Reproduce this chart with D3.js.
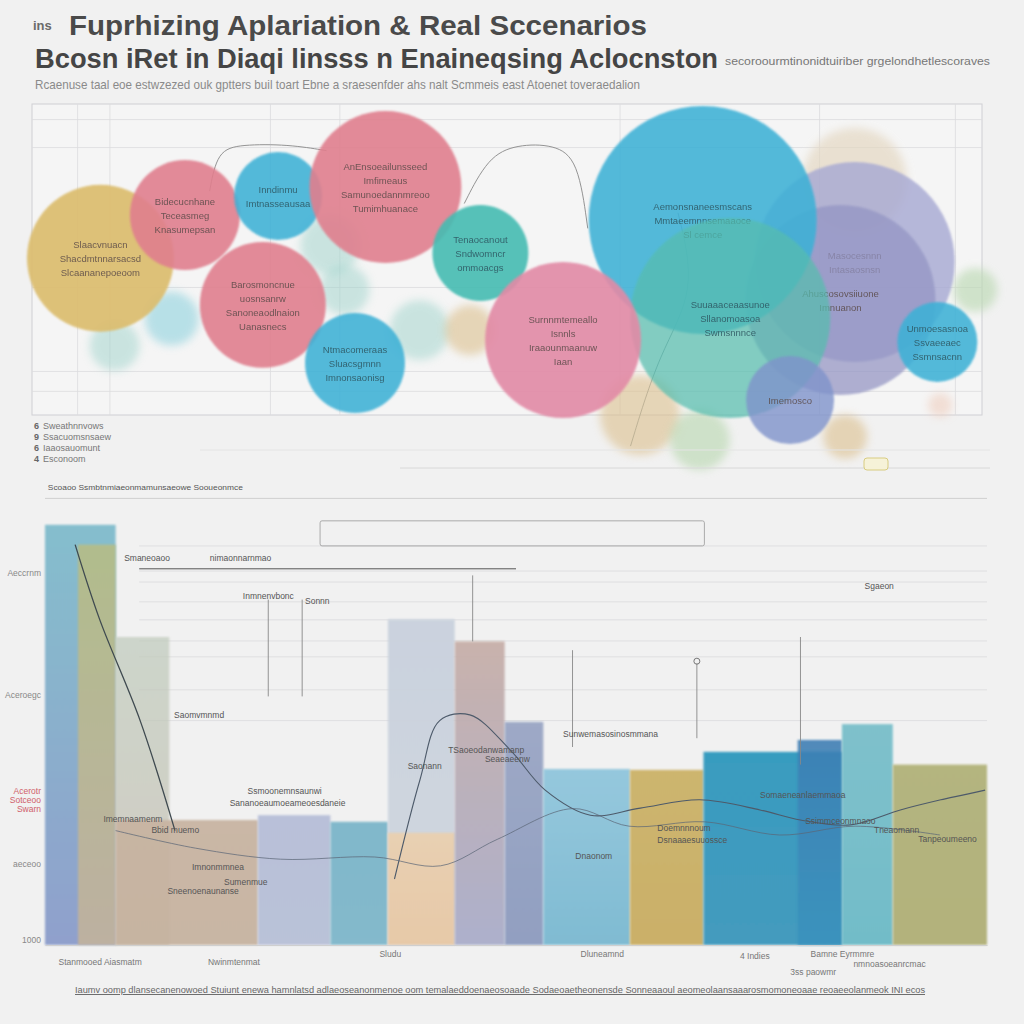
<!DOCTYPE html>
<html><head><meta charset="utf-8">
<script src="https://cdn.jsdelivr.net/npm/d3@7"></script>
<style>body{margin:0;background:#f1f1f1}svg{display:block}</style>
</head><body><svg id="c" width="1024" height="1024"></svg>
<script>
// ---------------- DATA ----------------
const titlePrefix = "ins";
const titleLine1 = "Fuprhizing Aplariation & Real Sccenarios";
const titleLine2 = "Bcosn iRet in Diaqi linsss n Enaineqsing Aclocnston";
const titleTail = "secoroourmtinonidtuiriber grgelondhetlescoraves";
const subtitle = "Rcaenuse taal eoe estwzezed ouk gptters buil toart Ebne a sraesenfder ahs nalt Scmmeis east Atoenet toveraedalion";

// bubble chart (top) - x,y in 0..100 units, size = value
const bubbleNames = ["b1","b2","b3","b4","b5","b6","b7","b8","b9","b10","b11","b12","b13","b14","b15","b16","b17","b18","b19","b20","b21","b22","b23","b24","b25","b26"];
const bubbleX = [86.6, 8.7, 14.7, 31.4, 32.9, 40.8, 46.1, 99.3, 64.0, 70.3, 85.6, 95.6, 7.2, 16.1, 25.9, 37.2, 24.3, 34.0, 47.2, 86.6, 85.1, 70.6, 73.5, 55.9, 79.8, 95.3];
const bubbleY = [75.6, 22.3, 31.0, 54.7, 40.2, 27.3, 27.3, 40.2, 0, -8.0, -7.0, 3.2, 50.4, 64.3, 70.4, 73.3, 35.4, 16.7, 52.1, 49.2, 37.0, 62.7, 31.2, 24.1, 4.8, 23.5];
const bubbleSize = [20.8, 4.8, 5.6, 6.9, 4.8, 6.9, 4.8, 3.7, 12.3, 6.9, 3.7, 1.1, 41.5, 23.3, 14.9, 44.4, 30.5, 19.2, 17.7, 77.0, 69.5, 100, 77.0, 46.8, 14.9, 12.3];
const bubbleGroup = ["tanF","tealF","aquaF","tealF","tealF","tealF","goldF","greenF","goldF","greenF","goldF","peachF","gold","pink","blue","pink","pink","blue","teal","lilac","purple","blue","tealB","rose","indigo","blue"];
const bubbleLabels = [[],[],[],[],[],[],[],[],[],[],[],[],
 ["Slaacvnuacn","Shacdmtnnarsacsd","Slcaananepoeoom"],
 ["Bidecucnhane","Teceasmeg","Knasumepsan"],
 ["Inndinmu","Imtnasseausaa"],
 ["AnEnsoeailunsseed","Imfimeaus","Samunoedannmreoo","Tumimhuanace"],
 ["Barosmoncnue","uosnsanrw","Sanoneaodlnaion","Uanasnecs"],
 ["Ntmacomeraas","Sluacsgmnn","Imnonsaonisg"],
 ["Tenaocanout","Sndwomncr","ommoacgs"],
 ["Masocesnnn","Intasaosnsn"],
 ["Ahuscosovsiiuone","Imnuanon"],
 ["Aemonsnaneesmscans","Mmtaeemnnsemaaoce","Sl cemce"],
 ["Suuaaaceaasunoe","Sllanomoasoa","Swmsnnnce"],
 ["Surnnmtemeallo","Isnnls","Iraaounmaanuw","Iaan"],
 ["Imemosco"],
 ["Unmoesasnoa","Ssvaeeaec","Ssmnsacnn"]];

const legendLabels = ["Sweathnnvows","Ssacuomsnsaew","Iaaosauomunt","Esconoom"];
const topGridX = [4.8, 8.2, 25.1, 32.4, 61.9, 82.9, 97.2];
const topGridY = [95, 86, 41, 14, 7.6];

// bar chart (bottom) - x in 0..100 units, value 0..100
const barNames = ["c1","c2","c3","c4","c5","c6","c7","c8","c9","c10","c11","c12","c13","c14","c15","c16"];
const barStart = [0, 3.5, 7.5, 7.5, 22.6, 30.3, 36.4, 36.4, 43.5, 48.8, 52.9, 62.1, 69.9, 79.9, 84.6, 90];
const barEnd   = [7.5, 7.5, 13.2, 22.6, 30.3, 36.4, 43.5, 43.5, 48.8, 52.9, 62.1, 69.9, 84.6, 84.6, 90, 100];
const barValue = [95.5, 91, 70, 28.4, 29.5, 28, 74, 25.5, 69, 50.7, 40, 39.8, 43.9, 46.6, 50.2, 41];
const barGroup = ["steel","olive","sage","tan","peri","aqua","mist","peach","mauve","slate","sky","gold","ocean","oceanD","teal","olive2"];

const lineAX = [3.2, 5.8, 10.1, 13.8];
const lineAY = [91, 74, 51, 26];
const lineBX = [37.1, 39.8, 41.9, 45.1, 49.4, 53.1, 57.9, 63.2, 69.5, 75.9, 80.2, 85.5, 90.8, 95.1, 99.8];
const lineBY = [15, 37.5, 51, 52.3, 44.3, 35.2, 29.5, 31.1, 33, 30.7, 28.4, 27.3, 30.7, 33, 35.2];
const lineCX = [7.5, 16, 25, 35, 42, 48, 56, 62, 70, 78, 86, 95];
const lineCY = [26, 22, 19.5, 20, 18, 24, 31, 27, 28, 25, 27, 25];

const yTickVals = [84.5, 56.8, 35, 33, 31, 18.4, 1.2];
const yTickLabels = ["Aeccrnm","Aceroegc","Acerotr","Sotceoo","Swarn","aeceoo","1000"];
const gridBottomY = [90.7, 85, 82.5, 78, 73.9, 69.1, 65.5, 58, 51];

const annText = ["Scoaoo Ssmbtnmiaeonmamunsaeowe Sooueonmce","Smaneoaoo","nimaonnarnmao","Inmnenvbonc","Sonnn","Saomvmnmd","Bbid muemo","Imnonmmnea","Saonann","Ssmoonemnsaunwi","TSaoeodanwamanp","Seaeaeenw","Imemnaamenm","Sumenmue","Sananoeaumoeameoesdaneie","Sneenoenaunanse","Doemnnnoum","Dsnaaaesuuossce","Sgaeon","Ssimmceonmnaoo","Tneaomann","Tanpeoumeeno","Dnaonom","Sunwemasosinosmmana","Somaeneanlaemmaoa"];
const annX = [0.3, 8.4, 17.5, 21, 27.6, 13.7, 11.3, 15.6, 38.5, 21.5, 42.8, 46.7, 6.2, 19, 19.6, 13, 65, 65, 87, 80.7, 88, 92.7, 56.3, 55, 75.9];
const annY = [103.5, 87.3, 87.3, 78.6, 77.5, 51.6, 25.5, 17.1, 40, 34.3, 43.6, 41.6, 28, 13.6, 31.5, 11.6, 26, 23.2, 80.9, 27.5, 25.5, 23.5, 19.5, 47.2, 33.4];

const xTickVals = [5.8, 20, 36.6, 59.1, 75.3, 84.6, 81.5, 89.6];
const xTickLabels = ["Stanmooed Aiasmatm","Nwinmtenmat","Sludu","Dluneamnd","4 Indies","Bamne Eyrmmre","3ss paowmr","nmnoasoeanrcmac"];
const xTickDrop = [0, 0, -8, -8, -6, -8, 10, 2];
const footer = "Iaumv oomp  dlansecanenowoed Stuiunt enewa hamnlatsd adlaeoseanonmenoe oom temalaeddoenaeosoaade Sodaeoaetheonensde  Sonneaaoul aeomeolaansaaarosmomoneoaae  reoaeeolanmeok INI ecos";

// ---------------- DRAW ----------------
const svg = d3.select('#c');
svg.append('rect').attr('width',1024).attr('height',1024).attr('fill','#f1f1f1');
const defs = svg.append('defs');
const blur = defs.append('filter').attr('id','soft').attr('x','-20%').attr('y','-20%').attr('width','140%').attr('height','140%');
blur.append('feGaussianBlur').attr('stdDeviation',1.2);
const blur2 = defs.append('filter').attr('id','softer').attr('x','-30%').attr('y','-30%').attr('width','160%').attr('height','160%');
blur2.append('feGaussianBlur').attr('stdDeviation',4);

const FONT = "'Liberation Sans', Arial, sans-serif";

// Titles
svg.append('text').attr('x',33).attr('y',30).attr('font-family',FONT).attr('font-size',13).attr('font-weight','bold')
  .attr('fill','#6a6a6a').text(titlePrefix);
svg.append('text').attr('x',69).attr('y',35).attr('font-family',FONT).attr('font-size',28).attr('font-weight','bold')
  .attr('fill','#4a4a4a').attr('textLength',578).attr('lengthAdjust','spacingAndGlyphs').text(titleLine1);
svg.append('text').attr('x',35).attr('y',68).attr('font-family',FONT).attr('font-size',28).attr('font-weight','bold')
  .attr('fill','#454545').attr('textLength',683).attr('lengthAdjust','spacingAndGlyphs').text(titleLine2);
svg.append('text').attr('x',725).attr('y',65).attr('font-family',FONT).attr('font-size',10)
  .attr('fill','#777').attr('textLength',265).attr('lengthAdjust','spacingAndGlyphs').text(titleTail);
svg.append('text').attr('x',35).attr('y',89).attr('font-family',FONT).attr('font-size',13)
  .attr('fill','#8a8a8a').attr('textLength',605).attr('lengthAdjust','spacingAndGlyphs').text(subtitle);

// ---- top panel ----
const tx = d3.scaleLinear().domain([0,100]).range([32,982]);
const ty = d3.scaleLinear().domain([0,100]).range([415,104]);
const tr = d3.scaleSqrt().domain([0,100]).range([0,114]);
const bubblePalette = {
  tanF:['#e3d6bf',0.65], tealF:['#9ed3cb',0.5], aquaF:['#86cfdc',0.55], goldF:['#dcc08e',0.6],
  greenF:['#bcd9b4',0.65], peachF:['#efcfbf',0.6],
  gold:['#dcbd6e',0.92], pink:['#e07f8e',0.9], blue:['#3eb1d6',0.88], teal:['#45bcb2',0.9],
  lilac:['#a6a8d3',0.8], purple:['#9394c3',0.72], tealB:['#56bdae',0.72], rose:['#e28aa6',0.9], indigo:['#7f93cb',0.8]
};
const topG = svg.append('g');
topG.append('rect').attr('x',tx(0)).attr('y',ty(100)).attr('width',tx(100)-tx(0)).attr('height',ty(0)-ty(100))
  .attr('fill','#f5f5f5').attr('stroke','#cfcfd4').attr('stroke-width',1);
topG.selectAll('.gx').data(topGridX).join('line').attr('x1',d=>tx(d)).attr('x2',d=>tx(d)).attr('y1',ty(100)).attr('y2',ty(0))
  .attr('stroke','#dcdcde').attr('stroke-width',0.8);
topG.selectAll('.gy').data(topGridY).join('line').attr('x1',tx(0)).attr('x2',tx(100)).attr('y1',d=>ty(d)).attr('y2',d=>ty(d))
  .attr('stroke','#dcdcde').attr('stroke-width',0.8);
// decorative curves
const curve = d3.line().x(d=>tx(d[0])).y(d=>ty(d[1])).curve(d3.curveBasis);
topG.append('path').attr('d',curve([[18.7,72],[19.5,85],[22,87],[27,87],[31,85]])).attr('fill','none').attr('stroke','#888').attr('stroke-width',0.9);
topG.append('path').attr('d',curve([[45.5,68],[48,83],[51,87],[55,87],[57.5,82],[58.5,60]])).attr('fill','none').attr('stroke','#888').attr('stroke-width',0.9);
topG.append('path').attr('d',curve([[63,-10],[66,20],[70,40],[68,65]])).attr('fill','none').attr('stroke','#7a8a90').attr('stroke-width',0.8);

const bub = topG.selectAll('.bub').data(bubbleNames.map((n,i)=>({n,x:bubbleX[i],y:bubbleY[i],s:bubbleSize[i],g:bubbleGroup[i],l:bubbleLabels[i]})))
  .join('g');
bub.append('circle').attr('cx',d=>tx(d.x)).attr('cy',d=>ty(d.y)).attr('r',d=>tr(d.s))
  .attr('fill',d=>bubblePalette[d.g][0]).attr('opacity',d=>bubblePalette[d.g][1])
  .attr('filter',d=>d.g.endsWith('F')?'url(#softer)':'url(#soft)');
bub.each(function(d){
  const g=d3.select(this); const n=d.l.length;
  d.l.forEach((t,k)=>{
    g.append('text').attr('x',tx(d.x)).attr('y',ty(d.y)+(k-(n-1)/2)*14+4).attr('text-anchor','middle')
     .attr('font-family',FONT).attr('font-size',9.5).attr('fill', d.g==='blue'||d.g==='teal'||d.g==='tealB'?'#2d5560':'#5a4a48')
     .attr('opacity',0.85).text(t);
  });
});

// legend
const lg = svg.append('g');
legendLabels.forEach((t,i)=>{
  lg.append('text').attr('x',34).attr('y',429+i*11).attr('font-family',FONT).attr('font-size',9).attr('font-weight','bold').attr('fill','#666').text(['6','9','6','4'][i]);
  lg.append('text').attr('x',43).attr('y',429+i*11).attr('font-family',FONT).attr('font-size',9).attr('fill','#777').text(t);
});
svg.append('line').attr('x1',200).attr('x2',990).attr('y1',450).attr('y2',450).attr('stroke','#e4e4e4');
svg.append('line').attr('x1',400).attr('x2',990).attr('y1',468).attr('y2',468).attr('stroke','#d8d8d8');
svg.append('rect').attr('x',864).attr('y',458).attr('width',24).attr('height',12).attr('rx',3).attr('fill','#f6f2d8').attr('stroke','#d8cc80');

// ---- bottom panel ----
const bx = d3.scaleLinear().domain([0,100]).range([45,987]);
const by = d3.scaleLinear().domain([0,100]).range([945,505]);
const barPalette = {
  steel:['#80bccc','#8b9ccb',0.95], olive:['#b9bd82','#c6b49a',0.85], sage:['#bfcabb','#c3bcae',0.7],
  tan:['#c8b4a2','#c6b3a0',0.95], peri:['#b3bbd7','#b5bdd6',0.9], aqua:['#7bb5c9','#7fb7cb',0.95],
  mist:['#c9d1dd','#d0d6df',0.95], peach:['#ead0b0','#e9c9a6',0.95], mauve:['#c5aca5','#a6aac8',0.9],
  slate:['#9aa6c4','#8d9bbf',0.95], sky:['#91c6dc','#7ab9d1',0.95], gold:['#ccb268','#c9ad62',0.95],
  ocean:['#2f98bd','#3b97bc',0.95], oceanD:['#3f7fb5','#3a93bd',0.9], teal:['#79bfca','#6cbac6',0.95], olive2:['#b3b47c','#b1b079',0.97]
};
const botG = svg.append('g');
botG.selectAll('.gb').data(gridBottomY).join('line').attr('x1',bx(10)).attr('x2',bx(100)).attr('y1',d=>by(d)).attr('y2',d=>by(d))
  .attr('stroke','#dadadd').attr('stroke-width',0.8);
botG.append('line').attr('x1',bx(0)).attr('x2',bx(100)).attr('y1',by(101.5)).attr('y2',by(101.5)).attr('stroke','#cfcfcf');
botG.append('rect').attr('x',bx(29.2)).attr('y',by(96.4)).attr('width',bx(70)-bx(29.2)).attr('height',by(90.7)-by(96.4))
  .attr('fill','none').attr('stroke','#aaa').attr('rx',2);
botG.append('line').attr('x1',bx(10)).attr('x2',bx(50)).attr('y1',by(85.5)).attr('y2',by(85.5)).attr('stroke','#555').attr('stroke-width',1);

const bars = barNames.map((n,i)=>({n,x0:barStart[i],x1:barEnd[i],v:barValue[i],g:barGroup[i],i}));
bars.forEach(d=>{
  const gr = defs.append('linearGradient').attr('id','g'+d.i).attr('x1',0).attr('x2',0).attr('y1',0).attr('y2',1);
  gr.append('stop').attr('offset','0%').attr('stop-color',barPalette[d.g][0]);
  gr.append('stop').attr('offset','100%').attr('stop-color',barPalette[d.g][1]);
});
botG.selectAll('.bar').data(bars).join('rect')
  .attr('x',d=>bx(d.x0)).attr('width',d=>bx(d.x1)-bx(d.x0))
  .attr('y',d=>by(d.v)).attr('height',d=>by(0)-by(d.v))
  .attr('fill',d=>'url(#g'+d.i+')').attr('opacity',d=>barPalette[d.g][2]).attr('filter','url(#soft)');

// leader lines
const leaders = [[23.7,78.5,56.5],[27.3,78.5,56.5],[45.4,84,69],[69.2,64,47],[80.2,70,41],[56,67,45]];
leaders.forEach(l=>botG.append('line').attr('x1',bx(l[0])).attr('x2',bx(l[0])).attr('y1',by(l[1])).attr('y2',by(l[2])).attr('stroke','#888').attr('stroke-width',0.9));
botG.append('circle').attr('cx',bx(69.2)).attr('cy',by(64.5)).attr('r',3).attr('fill','none').attr('stroke','#777');

const ln = d3.line().x(d=>bx(d[0])).y(d=>by(d[1])).curve(d3.curveCatmullRom);
botG.append('path').attr('d',ln(lineAX.map((x,i)=>[x,lineAY[i]]))).attr('fill','none').attr('stroke','#3f4a50').attr('stroke-width',1.3);
botG.append('path').attr('d',ln(lineBX.map((x,i)=>[x,lineBY[i]]))).attr('fill','none').attr('stroke','#4d5a6a').attr('stroke-width',1.1);
botG.append('path').attr('d',ln(lineCX.map((x,i)=>[x,lineCY[i]]))).attr('fill','none').attr('stroke','#5a6676').attr('stroke-width',0.9).attr('opacity',0.8);

botG.selectAll('.ann').data(annText).join('text')
  .attr('x',(d,i)=>bx(annX[i])).attr('y',(d,i)=>by(annY[i]))
  .attr('font-family',FONT).attr('font-size',(d,i)=>i===0?8:8.5).attr('fill','#555')
  .attr('textLength',(d,i)=>i===0?195:null).attr('lengthAdjust','spacingAndGlyphs').text(d=>d);

// y axis with labels
const yAxis = d3.axisLeft(by).tickValues(yTickVals).tickFormat((d,i)=>yTickLabels[i]).tickSize(0).tickPadding(4);
const ya = svg.append('g').attr('transform','translate(45,0)').call(yAxis);
ya.select('.domain').remove();
ya.selectAll('text').attr('font-family',FONT).attr('font-size',8.5).attr('fill',(d,i)=>(i>=2&&i<=4)?'#d0606a':'#888');

// x axis labels
const xAxis = d3.axisBottom(bx).tickValues(xTickVals).tickFormat((d,i)=>xTickLabels[i]).tickSize(0).tickPadding(14);
const xa = svg.append('g').attr('transform','translate(0,945)').call(xAxis);
xa.select('.domain').attr('stroke','#cfcfcf');
xa.selectAll('text').attr('font-family',FONT).attr('font-size',8.5).attr('fill','#777')
  .attr('dy',(d,i)=>(0.71*8.5+xTickDrop[i])+'px');

svg.append('text').attr('x',75).attr('y',993).attr('font-family',FONT).attr('font-size',9.5).attr('fill','#666')
  .attr('text-decoration','underline').attr('textLength',850).attr('lengthAdjust','spacingAndGlyphs').text(footer);
</script></body></html>
